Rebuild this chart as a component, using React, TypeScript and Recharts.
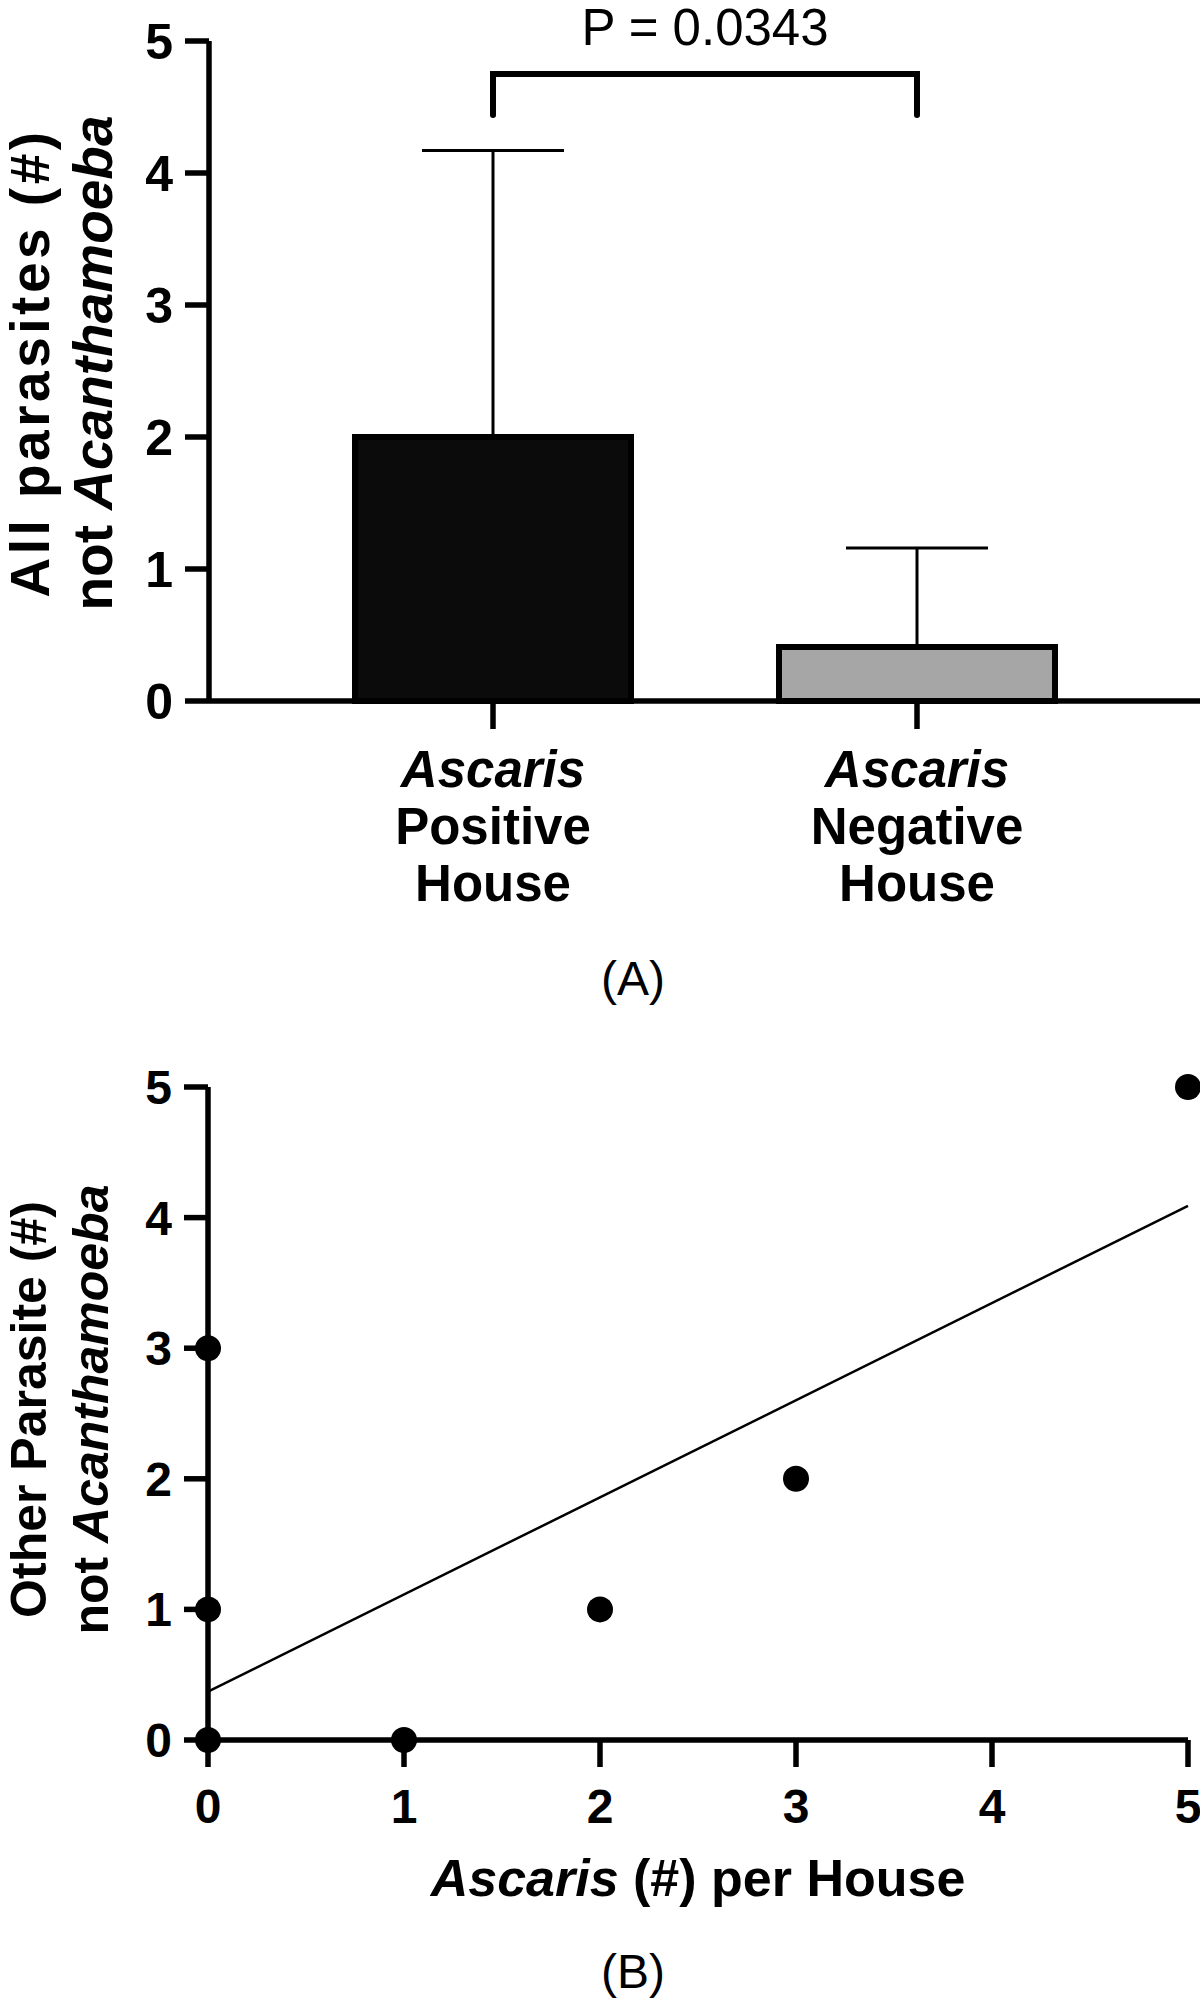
import { BarChart, Bar, Cell, XAxis, YAxis, ErrorBar, ReferenceLine, ScatterChart, Scatter } from 'recharts'

const FONT = '"Liberation Sans", Arial, Helvetica, sans-serif'
const INK = '#000'

// (A) parasites per house group, mean + upper SD
const houseGroups = ['Ascaris Positive House', 'Ascaris Negative House']
const groupMeans = [2.0, 0.41]
const groupSdUpper = [2.17, 0.75]
const groupFills = ['#0b0b0b', '#a6a6a6']
const pValueText = 'P = 0.0343'
const bracketTop = 4.75
const bracketFoot = 4.44

// (B) Ascaris count vs other parasite count, one point per house
const ascarisPerHouse = [0, 0, 0, 1, 2, 3, 5]
const otherParasites = [3, 1, 0, 0, 1, 2, 5]
const fitX = [0, 5]
const fitY = [0.37, 4.09]

const countTicks = [0, 1, 2, 3, 4, 5]

const barData = houseGroups.map((group, i) => ({
  group,
  mean: groupMeans[i],
  err: [0, groupSdUpper[i]],
}))
const pointData = ascarisPerHouse.map((x, i) => ({ x, y: otherParasites[i] }))
const fitData = fitX.map((x, i) => ({ x, y: fitY[i] }))

const axisStroke = { stroke: INK, strokeWidth: 5.5 }
const tickFontA = { fontSize: 50, fontWeight: 700, fill: INK, fontFamily: FONT }
const tickFontB = { fontSize: 48, fontWeight: 700, fill: INK, fontFamily: FONT }

function HouseTick(props: any) {
  const { x, y, payload } = props
  const [genus, status, place] = String(payload.value).split(' ')
  return (
    <text x={x} y={y} textAnchor="middle" fontFamily={FONT} fontSize={51} fontWeight={700} fill={INK}>
      <tspan x={x} dy={58} fontStyle="italic">{genus}</tspan>
      <tspan x={x} dy={57}>{status}</tspan>
      <tspan x={x} dy={57}>{place}</tspan>
    </text>
  )
}

function YTitle(props: any) {
  const { viewBox, first, shift = 0, size = 50, spacing = 0, base1 = 42, base2 = 106 } = props
  const cy = viewBox.y + viewBox.height / 2 + shift
  return (
    <text
      transform={`translate(0, ${cy}) rotate(-90)`}
      textAnchor="middle"
      fontFamily={FONT}
      fontSize={size}
      fontWeight={700}
      fill={INK}
    >
      <tspan x={0} y={base1} letterSpacing={spacing}>{first}</tspan>
      <tspan x={0} y={base2}>
        not <tspan fontStyle="italic">Acanthamoeba</tspan>
      </tspan>
    </text>
  )
}

function XTitle(props: any) {
  const { viewBox } = props
  return (
    <text
      x={viewBox.x + viewBox.width / 2}
      y={viewBox.y + 156}
      textAnchor="middle"
      fontFamily={FONT}
      fontSize={52}
      fontWeight={700}
      fill={INK}
    >
      <tspan fontStyle="italic">Ascaris</tspan> (#) per House
    </text>
  )
}

function Caption({ text, top }: { text: string; top: number }) {
  return (
    <svg width={1200} height={70} style={{ position: 'absolute', left: 0, top }}>
      <text x={633} y={55} textAnchor="middle" fontFamily={FONT} fontSize={48} fill={INK}>
        {text}
      </text>
    </svg>
  )
}

function dot(props: any) {
  return <circle cx={props.cx} cy={props.cy} r={13} fill={INK} />
}

export default function App() {
  return (
    <div style={{ position: 'absolute', left: 0, top: 0, width: 1200, height: 2007, background: '#fff' }}>
      <div style={{ position: 'absolute', left: 0, top: 0 }}>
        <BarChart width={1200} height={960} data={barData} margin={{ top: 41, right: 0, bottom: 59, left: 0 }}>
          <XAxis
            dataKey="group"
            padding={{ left: 72, right: 71 }}
            height={200}
            axisLine={axisStroke}
            tickLine={axisStroke}
            tickSize={28}
            tickMargin={0}
            tick={<HouseTick />}
            interval={0}
          />
          <YAxis
            domain={[0, 5]}
            ticks={countTicks}
            width={209}
            axisLine={axisStroke}
            tickLine={axisStroke}
            tickSize={24}
            tickMargin={12}
            tick={tickFontA}
            label={<YTitle first="All parasites (#)" shift={-8} size={55} spacing={3.5} base1={49} base2={112} />}
          />
          <Bar dataKey="mean" barSize={276} stroke={INK} strokeWidth={6} isAnimationActive={false}>
            {barData.map((d, i) => (
              <Cell key={d.group} fill={groupFills[i]} />
            ))}
            <ErrorBar dataKey="err" direction="y" width={71} stroke={INK} strokeWidth={3} />
          </Bar>
          <ReferenceLine
            segment={[{ x: houseGroups[0], y: bracketTop }, { x: houseGroups[1], y: bracketTop }]}
            stroke={INK}
            strokeWidth={6}
            strokeLinecap="square"
            label={{ value: pValueText, position: 'top', offset: 29, fontSize: 51, fill: INK, fontFamily: FONT }}
          />
          <ReferenceLine
            segment={[{ x: houseGroups[0], y: bracketTop }, { x: houseGroups[0], y: bracketFoot }]}
            stroke={INK}
            strokeWidth={6}
            strokeLinecap="round"
          />
          <ReferenceLine
            segment={[{ x: houseGroups[1], y: bracketTop }, { x: houseGroups[1], y: bracketFoot }]}
            stroke={INK}
            strokeWidth={6}
            strokeLinecap="round"
          />
        </BarChart>
      </div>
      <Caption text="(A)" top={940} />

      <div style={{ position: 'absolute', left: 0, top: 1000 }}>
        <ScatterChart width={1200} height={1007} margin={{ top: 87, right: 12, bottom: 107, left: 0 }}>
          <XAxis
            type="number"
            dataKey="x"
            domain={[0, 5]}
            ticks={countTicks}
            height={160}
            axisLine={axisStroke}
            tickLine={axisStroke}
            tickSize={27}
            tickMargin={22}
            tick={tickFontB}
            label={<XTitle />}
          />
          <YAxis
            type="number"
            dataKey="y"
            domain={[0, 5]}
            ticks={countTicks}
            width={208}
            axisLine={axisStroke}
            tickLine={axisStroke}
            tickSize={24}
            tickMargin={12}
            tick={tickFontB}
            label={<YTitle first="Other Parasite (#)" shift={-4} base1={46} base2={108} />}
          />
          <Scatter data={fitData} line={{ stroke: INK, strokeWidth: 2.5 }} shape={() => <g />} isAnimationActive={false} />
          <Scatter data={pointData} shape={dot} isAnimationActive={false} />
        </ScatterChart>
      </div>
      <Caption text="(B)" top={1933} />
    </div>
  )
}
